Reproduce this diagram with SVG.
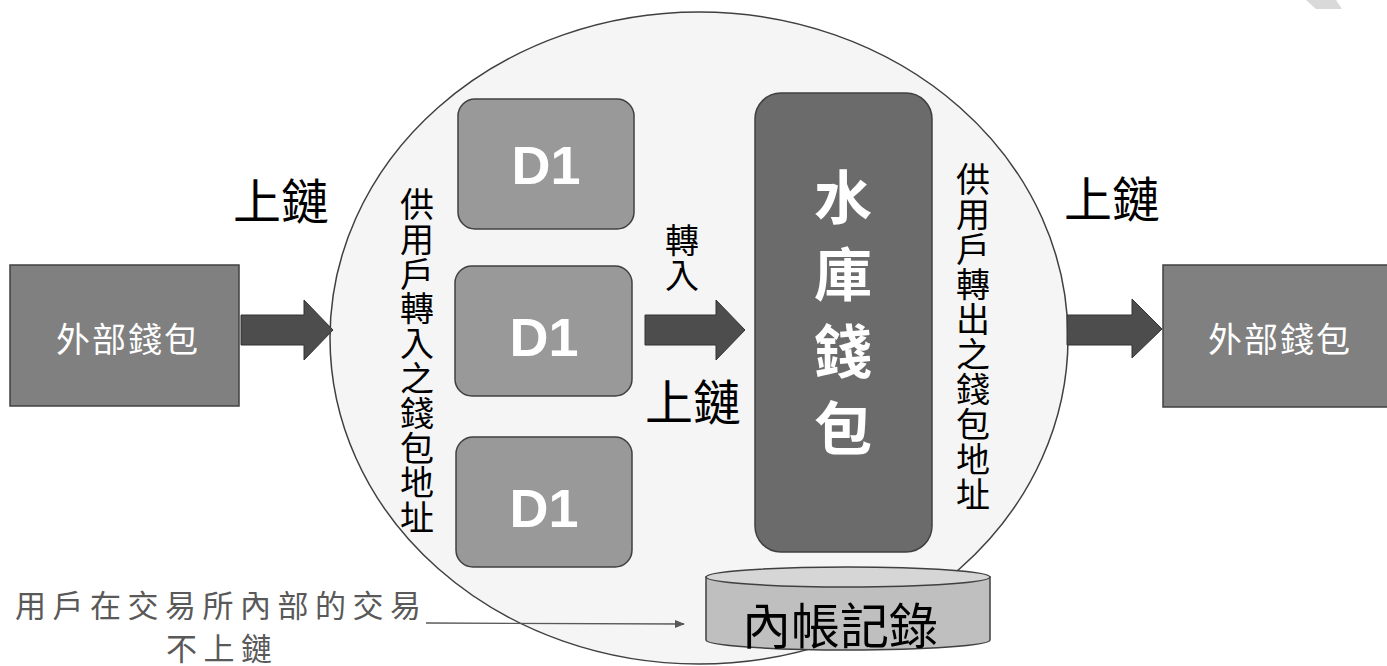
<svg xmlns="http://www.w3.org/2000/svg" width="1387" height="666" viewBox="0 0 1387 666">
<style>
.cjk{font-family:"Noto Sans CJK TC","Noto Sans CJK SC",sans-serif;}
.blk{fill:#000;}
.wht{fill:#fff;}
.ext{fill:#808080;stroke:#404040;stroke-width:1.5;}
.d1{fill:#999999;stroke:#404040;stroke-width:1.5;}
.d1t{font-family:"Liberation Sans",Arial,sans-serif;font-weight:bold;font-size:54px;fill:#fff;text-anchor:middle;dominant-baseline:central;}
.fat{fill:#4d4d4d;stroke:#333;stroke-width:1;}
.c{text-anchor:middle;dominant-baseline:central;}
.vt{writing-mode:vertical-rl;text-orientation:upright;text-anchor:start;}
</style>
<defs>
<marker id="ah" markerWidth="10" markerHeight="8" refX="9" refY="4" orient="auto" markerUnits="userSpaceOnUse">
<path d="M0,0 L10,4 L0,8 Z" fill="#595959"/>
</marker>
</defs>
<rect width="1387" height="666" fill="#fff"/>
<polygon points="1306,0 1336,0 1342,9 1316,9" fill="#d9d9d9"/>

<g id="boundary">
<ellipse cx="699" cy="338" rx="369" ry="326" fill="#f5f5f5" stroke="#404040" stroke-width="1.5"/>
</g>

<g id="ext-left">
<rect class="ext" x="10" y="265" width="229" height="141"/>
<text class="cjk c wht" x="128" y="337" font-size="34" letter-spacing="2">外部錢包</text>
</g>
<g id="ext-right">
<rect class="ext" x="1163" y="265" width="225" height="142"/>
<text class="cjk c wht" x="1280" y="337" font-size="34" letter-spacing="2">外部錢包</text>
</g>

<g id="d1-top">
<rect class="d1" x="458" y="99" width="176" height="130" rx="17"/>
<text class="d1t" x="546" y="165">D1</text>
</g>
<g id="d1-mid">
<rect class="d1" x="455" y="266" width="177" height="130" rx="17"/>
<text class="d1t" x="544" y="337">D1</text>
</g>
<g id="d1-bot">
<rect class="d1" x="456" y="437" width="176" height="130" rx="17"/>
<text class="d1t" x="544" y="508">D1</text>
</g>

<g id="reservoir">
<rect x="755" y="93" width="177" height="459" rx="26" fill="#6b6b6b" stroke="#404040" stroke-width="1.5"/>
<text class="cjk wht vt" x="843" y="168" font-size="58" font-weight="bold" letter-spacing="19">水庫錢包</text>
</g>

<g id="ledger">
<path d="M706,577 L706,640 A142,10 0 0 0 990,640 L990,577 Z" fill="#bfbfbf" stroke="#404040" stroke-width="1.5"/>
<ellipse cx="848" cy="577" rx="142" ry="10" fill="#d6d6d6" stroke="#404040" stroke-width="1.5"/>
<text class="cjk c blk" x="840" y="622" font-size="49">內帳記錄</text>
</g>

<g id="connectors">
<polygon class="fat" points="241,315 304,315 304,300 333,330 304,360 304,345 241,345"/>
<polygon class="fat" points="645,315 716,315 716,300 745,330 716,360 716,345 645,345"/>
<polygon class="fat" points="1067,315 1132,315 1132,299 1162,329 1132,358 1132,345 1067,345"/>
<line x1="426" y1="623" x2="684" y2="624" stroke="#595959" stroke-width="1.3" marker-end="url(#ah)"/>
</g>

<g id="labels">
<text class="cjk c blk" x="281" y="198" font-size="48">上鏈</text>
<text class="cjk c blk" x="1112" y="196" font-size="48">上鏈</text>
<text class="cjk c blk" x="693" y="399" font-size="48">上鏈</text>
<text class="cjk blk vt" x="682" y="223" font-size="34" letter-spacing="1">轉入</text>
<text class="cjk blk vt" x="417" y="187" font-size="34" letter-spacing="0.8">供用戶轉入之錢包地址</text>
<text class="cjk blk vt" x="973" y="162" font-size="34" letter-spacing="1">供用戶轉出之錢包地址</text>
<text class="cjk" x="15" y="603" font-size="31" letter-spacing="6.5" fill="#595959" dominant-baseline="central">用戶在交易所內部的交易</text>
<text class="cjk" x="166" y="646" font-size="31" letter-spacing="6.5" fill="#595959" dominant-baseline="central">不上鏈</text>
</g>
</svg>
